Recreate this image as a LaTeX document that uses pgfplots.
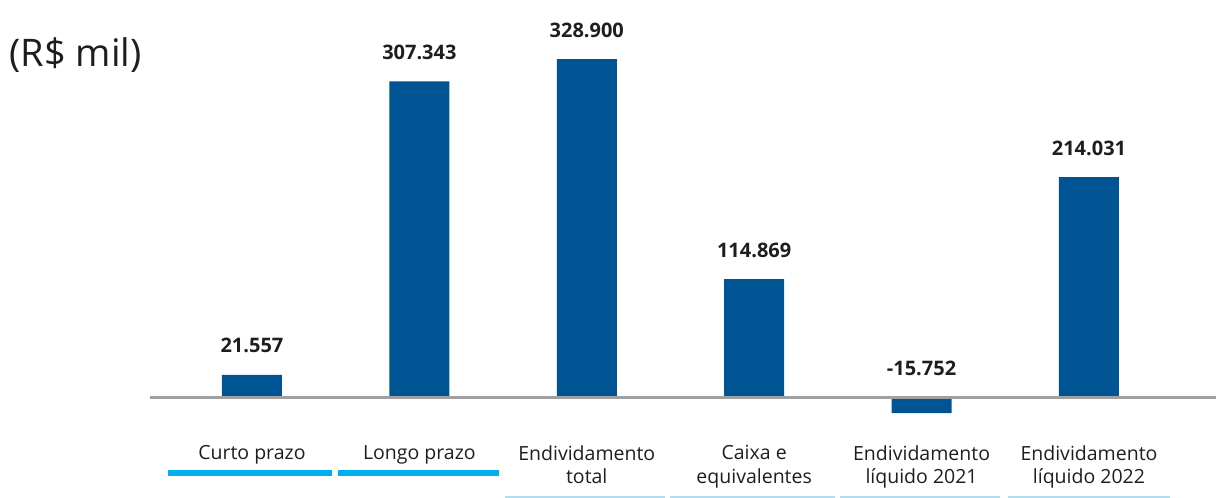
\documentclass[border=0pt]{standalone}
\usepackage{pgfplots}
\pgfplotsset{compat=1.18}
\usepackage{fontspec}
\setmainfont{Open Sans}
\definecolor{barblue}{RGB}{0,84,148}
\definecolor{zerogray}{RGB}{160,160,160}
\definecolor{cyanline}{RGB}{0,174,239}
\definecolor{paleline}{RGB}{178,222,240}
\definecolor{txt}{RGB}{30,30,30}
\begin{document}
\begin{tikzpicture}[x=1pt,y=1pt]
\useasboundingbox (0,0) rectangle (1216,498);
\begin{axis}[
  scale only axis,
  width=1066pt, height=412.7pt,
  anchor=south west, at={(150pt,75.3pt)},
  xmin=-0.609, xmax=5.759,
  ymin=-25, ymax=376.8,
  axis line style={draw=none},
  ytick=\empty,
  xtick=data,
  major tick length=0pt,
  xticklabels={Curto prazo, Longo prazo, Endividamento\\total, Caixa e\\equivalentes, Endividamento\\líquido 2021, Endividamento\\líquido 2022},
  xticklabel style={anchor=north, yshift=-19pt, align=center, text=txt, font=\fontsize{19.5}{23.5}\selectfont},
  clip=false,
]
\addplot[ybar, bar width=60pt, fill=barblue, draw=none] coordinates {
  (0,21.557) (1,307.343) (2,328.9) (3,114.869) (4,-15.752) (5,214.031)
};
\addplot[draw=none, nodes near coords, point meta=explicit symbolic,
  nodes near coords style={anchor=center, yshift=29pt, text=txt, font=\fontsize{20}{24}\selectfont\bfseries}]
  coordinates {
  (0,21.557)[21.557] (1,307.343)[307.343] (2,328.9)[328.900] (3,114.869)[114.869] (4,0)[-15.752] (5,214.031)[214.031]
};
\draw[zerogray, line width=3pt] (axis cs:-0.609,0) -- (axis cs:5.759,0);
\end{axis}
\node[anchor=west, text=txt, font=\fontsize{38}{44}\selectfont] at (6,443) {(R\$ mil)};
\draw[cyanline, line width=6pt] (168,25) -- (332,25);
\draw[cyanline, line width=6pt] (338,25) -- (499,25);
\draw[paleline, line width=2pt] (505,1) -- (665,1);
\draw[paleline, line width=2pt] (670,1) -- (835,1);
\draw[paleline, line width=2pt] (840,1) -- (1000,1);
\draw[paleline, line width=2pt] (1008,1) -- (1170,1);
\end{tikzpicture}
\end{document}
